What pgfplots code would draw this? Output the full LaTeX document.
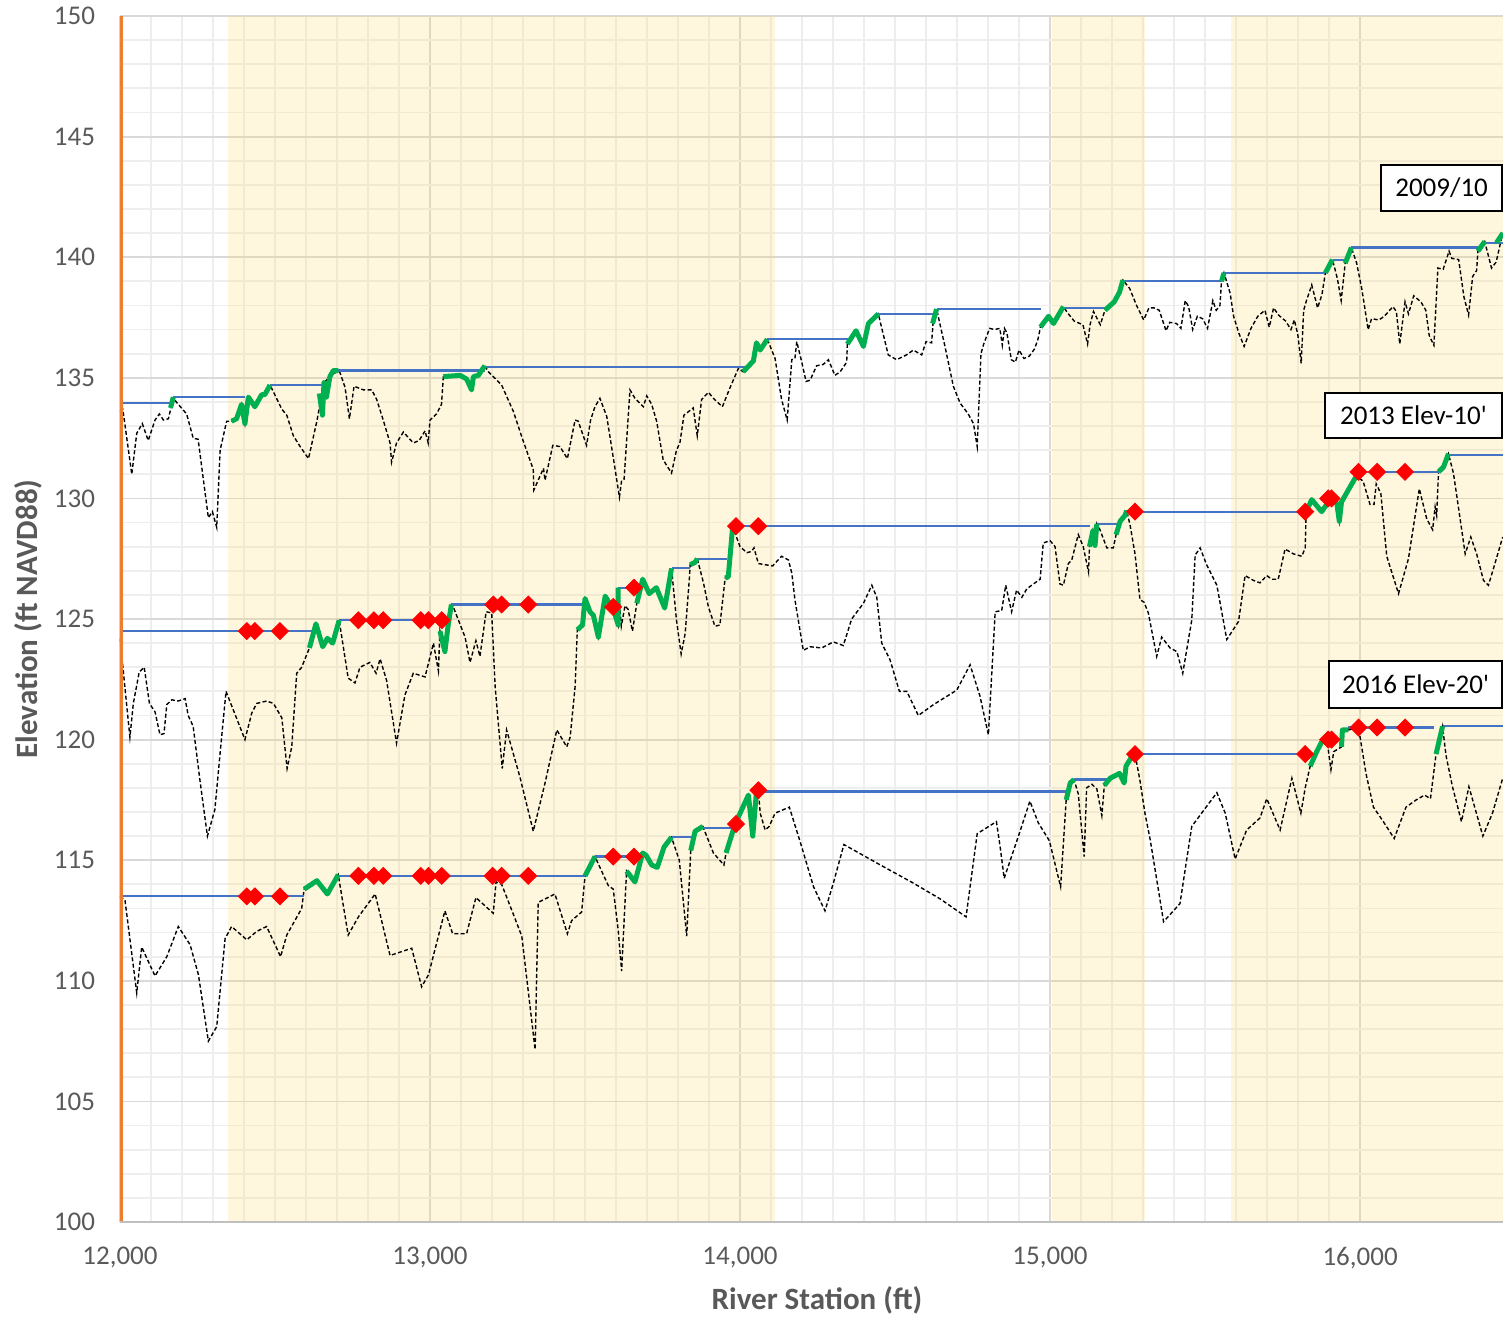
\documentclass[border=0pt]{standalone}
\usepackage{fontspec}
\setmainfont{Carlito}
\newfontfamily\boxfont{Carlito}
\usepackage{pgfplots}
\pgfplotsset{compat=1.18}
\definecolor{xblue}{HTML}{4472C4}
\definecolor{xgreen}{HTML}{00B050}
\definecolor{xorange}{HTML}{ED7D31}
\definecolor{xgrey}{HTML}{595959}
\definecolor{gmaj}{HTML}{D9D9D9}
\definecolor{gmin}{HTML}{EEEEEE}
\definecolor{gaxis}{HTML}{BFBFBF}
\definecolor{shade}{HTML}{FFD966}

\pgfplotstableread{
x y
12000 133.6
12009 133.7
12038 131.0
12054 132.7
12072 133.1
12091 132.4
12113 133.25
12127 133.5
12140 133.25
12156 133.3
12172 134.15
12188 133.9
12215 133.5
12236 132.5
12252 132.45
12285 129.2
12298 129.45
12312 128.8
12323 132.0
12344 133.2
12360 133.2
12376 133.3
12392 133.9
12403 133.1
12414 134.2
12435 133.8
12457 134.3
12467 134.3
12484 134.7
12522 133.7
12538 133.45
12559 132.6
12581 132.15
12608 131.65
12635 133.2
12645 133.9
12658 134.8
12677 135.05
12704 135.3
12710 135.2
12726 134.6
12740 133.3
12755 134.65
12785 134.5
12812 134.5
12828 134.1
12849 133.25
12871 132.3
12876 131.5
12892 132.3
12914 132.75
12946 132.3
12965 132.4
12984 132.8
12994 132.3
13000 133.25
13021 133.5
13037 133.9
13043 135.05
13097 135.1
13118 134.95
13134 134.5
13140 135.05
13156 135.1
13166 135.3
13177 135.5
13188 135.25
13231 134.7
13269 133.6
13296 132.55
13333 131.2
13335 130.35
13366 131.25
13371 130.75
13396 132.2
13419 132.15
13443 131.65
13468 133.25
13478 133.2
13505 132.2
13518 133.25
13532 133.8
13548 134.15
13570 133.4
13591 131.7
13611 130.05
13618 130.75
13626 130.8
13645 134.5
13661 134.15
13688 133.8
13699 134.25
13715 133.9
13731 133.2
13752 131.6
13779 131.05
13795 132.0
13806 132.3
13819 133.45
13849 133.75
13862 132.6
13876 134.1
13898 134.4
13914 134.15
13943 133.8
13968 134.6
13995 135.4
14010 135.25
14043 135.7
14053 136.45
14065 136.15
14088 136.6
14113 135.8
14134 134.1
14152 133.25
14167 135.75
14177 135.8
14183 136.5
14199 135.65
14213 134.85
14226 134.9
14247 135.5
14268 135.55
14285 135.75
14306 135.1
14323 135.25
14344 135.65
14346 136.4
14374 136.95
14398 136.3
14414 137.25
14446 137.65
14478 135.95
14505 135.75
14537 135.95
14559 136.15
14586 135.95
14600 136.5
14618 136.45
14623 137.35
14634 137.85
14661 136.3
14688 134.65
14710 133.95
14736 133.5
14753 133.1
14765 132.15
14777 136.0
14786 136.4
14805 137.05
14821 137.0
14838 137.05
14846 136.35
14853 137.05
14861 136.85
14875 135.75
14888 135.65
14900 136.15
14916 135.8
14933 135.9
14950 136.2
14961 136.6
14969 137.1
14995 137.55
15011 137.25
15043 137.95
15056 137.7
15078 137.35
15106 137.2
15121 136.4
15129 137.2
15140 137.75
15162 137.2
15177 137.8
15207 138.15
15224 138.55
15235 139.05
15257 138.7
15279 138.0
15302 137.4
15319 137.9
15335 137.9
15352 137.8
15374 136.95
15386 137.3
15408 137.25
15422 137.05
15436 138.2
15447 137.95
15460 137.0
15475 137.55
15492 137.45
15508 137.05
15525 138.2
15536 137.8
15548 138.0
15553 139.0
15561 139.35
15581 138.5
15592 137.55
15609 136.85
15626 136.3
15648 137.05
15670 137.55
15693 137.8
15707 137.1
15721 137.9
15737 137.6
15760 137.35
15777 137.0
15788 137.4
15799 136.8
15810 135.6
15818 137.8
15827 138.2
15844 138.85
15863 137.9
15877 138.45
15888 139.35
15911 139.9
15927 139.1
15939 138.2
15952 139.75
15972 140.4
15989 139.75
16006 138.65
16026 137.0
16037 137.45
16061 137.4
16078 137.55
16106 137.95
16117 137.75
16128 136.4
16145 138.15
16156 137.65
16173 138.4
16196 138.15
16212 137.8
16223 136.75
16238 136.35
16251 139.55
16268 139.5
16287 140.25
16296 139.95
16318 139.9
16335 138.35
16350 137.6
16363 139.2
16376 139.45
16380 140.25
16402 140.65
16424 139.55
16439 139.8
16460 141.0
}\blackA

\pgfplotstableread{
x y
12000 124.2
12032 120.1
12043 121.5
12062 122.8
12078 123.0
12095 121.5
12113 121.15
12129 120.2
12142 120.25
12151 121.45
12167 121.65
12188 121.6
12210 121.7
12220 121.0
12236 120.55
12258 118.3
12282 116.0
12306 117.1
12323 119.45
12342 122.0
12374 120.95
12403 120.0
12425 121.1
12441 121.5
12473 121.6
12495 121.5
12522 120.9
12539 118.8
12554 119.7
12570 122.75
12586 123.0
12611 123.8
12632 124.8
12654 123.85
12669 124.2
12686 124.0
12707 124.95
12736 122.55
12758 122.35
12774 123.0
12806 123.2
12826 122.75
12839 123.35
12860 122.45
12892 119.85
12919 121.85
12946 122.75
12984 122.6
13011 124.0
13027 122.85
13032 124.5
13048 123.65
13059 124.8
13069 125.6
13075 125.5
13113 124.25
13129 123.2
13148 124.1
13161 123.45
13181 125.3
13199 125.25
13210 122.2
13233 118.8
13247 120.4
13290 118.45
13333 116.2
13371 118.2
13409 120.4
13441 119.7
13452 120.1
13468 122.2
13475 124.55
13492 124.75
13500 125.85
13516 125.3
13527 125.15
13543 124.25
13565 125.95
13581 125.6
13594 125.3
13607 124.75
13607 126.3
13617 124.7
13629 125.55
13639 125.4
13653 124.5
13667 125.65
13686 126.65
13707 126.05
13730 126.3
13757 125.45
13779 127.1
13795 124.95
13810 123.55
13823 124.4
13837 126.75
13839 127.25
13855 127.35
13862 127.5
13882 126.5
13898 125.5
13919 124.7
13935 124.75
13952 126.7
13962 126.75
13976 128.8
13984 128.55
14000 128.0
14022 127.75
14037 127.8
14045 127.95
14059 127.3
14081 127.25
14105 127.2
14134 127.6
14156 127.45
14167 126.9
14177 125.8
14204 123.7
14226 123.85
14263 123.8
14301 124.05
14333 123.9
14360 125.0
14398 125.65
14425 126.4
14441 125.9
14457 124.0
14484 123.3
14514 122.0
14538 122.0
14575 121.0
14624 121.45
14699 122.05
14742 123.1
14774 121.8
14801 120.2
14823 125.3
14844 125.35
14857 126.4
14876 125.3
14892 126.2
14909 125.9
14925 126.25
14946 126.45
14968 126.65
14978 128.15
15000 128.25
15016 128.0
15032 126.45
15043 126.4
15059 127.3
15070 127.45
15091 128.5
15107 128.0
15124 126.95
15127 128.0
15138 128.65
15145 128.05
15151 128.95
15161 128.7
15183 127.95
15204 127.95
15213 128.5
15226 129.05
15242 129.3
15247 129.5
15258 128.9
15274 127.7
15290 125.8
15303 125.7
15317 125.25
15344 123.45
15360 124.25
15387 123.8
15409 123.65
15428 122.75
15457 124.95
15468 127.65
15484 127.95
15505 127.25
15538 126.4
15570 124.15
15608 124.9
15629 126.8
15656 126.6
15677 126.5
15699 126.8
15715 126.65
15736 126.65
15758 127.9
15785 127.7
15812 127.6
15823 127.95
15826 129.45
15844 129.95
15876 129.45
15903 129.95
15925 129.8
15933 129.05
15940 129.85
15962 130.35
15989 130.95
16010 130.7
16032 129.75
16045 129.75
16052 130.6
16067 130.2
16086 127.6
16124 126.05
16156 127.5
16191 130.4
16215 129.15
16234 128.7
16242 129.65
16247 129.3
16253 131.1
16269 131.3
16285 131.85
16301 131.05
16317 129.65
16339 127.7
16357 128.4
16376 127.7
16398 126.6
16414 126.4
16435 127.3
16460 128.4
}\blackB

\pgfplotstableread{
x y
12000 113.5
12016 113.35
12054 109.5
12070 111.4
12113 110.2
12151 111.0
12188 112.25
12226 111.5
12253 110.25
12285 107.5
12312 108.1
12339 111.75
12360 112.25
12409 111.7
12441 112.05
12473 112.25
12518 111.0
12538 111.9
12586 113.0
12594 113.8
12635 114.15
12669 113.6
12704 114.4
12736 111.9
12769 112.65
12823 113.6
12871 111.05
12941 111.35
12973 109.75
12995 110.25
13048 112.9
13073 111.95
13118 111.95
13148 113.45
13204 112.8
13213 114.1
13231 114.0
13263 112.95
13296 111.85
13339 107.15
13349 113.25
13403 113.6
13443 111.95
13457 112.5
13489 112.85
13500 114.35
13532 115.15
13575 113.95
13591 113.8
13607 112.1
13618 110.4
13634 114.55
13661 114.1
13686 115.3
13697 115.2
13715 114.8
13733 114.7
13755 115.55
13779 115.95
13804 115.0
13828 111.85
13841 115.4
13855 116.2
13880 116.4
13914 115.3
13948 114.8
13955 115.3
13984 116.5
14027 117.7
14041 116.0
14052 117.7
14059 117.9
14065 116.95
14081 116.25
14094 116.4
14113 116.95
14159 117.2
14199 115.55
14237 113.9
14274 112.9
14301 114.05
14335 115.65
14446 114.85
14559 114.05
14645 113.4
14729 112.65
14765 116.1
14827 116.6
14839 115.55
14852 114.25
14898 116.0
14935 117.45
14962 116.55
14998 115.8
15034 113.9
15052 117.5
15065 118.2
15077 118.35
15091 117.75
15110 115.15
15118 118.0
15135 118.15
15151 117.95
15167 116.85
15175 118.1
15194 118.4
15224 118.6
15239 118.2
15245 118.9
15264 119.3
15274 119.4
15290 118.3
15306 116.95
15323 115.85
15344 114.2
15366 112.45
15419 113.2
15457 116.4
15538 117.8
15565 116.95
15597 115.05
15634 116.25
15677 116.75
15699 117.55
15742 116.25
15780 118.4
15809 116.95
15823 118.0
15839 118.9
15860 119.5
15880 120.0
15895 119.8
15906 118.75
15915 119.5
15940 119.7
15943 120.4
15962 120.4
15995 120.5
16019 118.6
16043 117.2
16075 116.6
16110 115.9
16148 117.2
16181 117.5
16208 117.7
16227 117.55
16245 119.4
16266 120.55
16277 119.35
16298 118.05
16327 116.6
16351 118.05
16396 116.0
16427 116.95
16460 118.4
}\blackC

\begin{document}
\begin{tikzpicture}
\begin{axis}[
  at={(0,0)}, anchor=south west,
  scale only axis, width=691.5pt, height=603pt,
  xmin=12000, xmax=16461, ymin=100, ymax=150,
  xtick={12000,13000,14000,15000,16000},
  ytick={100,105,110,115,120,125,130,135,140,145,150},
  minor x tick num=9, minor y tick num=4,
  grid=both,
  major grid style={draw=gmaj, line width=0.9pt},
  minor grid style={draw=gmin, line width=0.9pt},
  major tick length=0pt, minor tick length=0pt,
  axis line style={draw=none},
  unbounded coords=jump,
  scaled x ticks=false,
  xticklabel={\pgfmathprintnumber[fixed,precision=0,1000 sep={,}]{\tick}},
  /pgf/number format/assume math mode=true,
  tick label style={font=\fontsize{13.5}{16}\selectfont, text=xgrey},
  yticklabel style={xshift=-9pt},
  xticklabel style={yshift=-9pt},
  xlabel={River Station (ft)}, ylabel={Elevation (ft NAVD88)},
  label style={font=\bfseries\fontsize{15.5}{18}\selectfont, text=xgrey},
  xlabel style={at={(axis description cs:0.504,-0.0647)}, anchor=center},
  ylabel style={at={(axis description cs:-0.0665,0.5)}, anchor=center},
]
% shaded reaches
\addplot[fill=shade, fill opacity=0.22, draw=none] coordinates {(12348,100)(14113,100)(14113,150)(12348,150)} -- cycle;
\addplot[fill=shade, fill opacity=0.22, draw=none] coordinates {(15006,100)(15306,100)(15306,150)(15006,150)} -- cycle;
\addplot[fill=shade, fill opacity=0.22, draw=none] coordinates {(15584,100)(16461,100)(16461,150)(15584,150)} -- cycle;

% thalweg profiles
\addplot[black, line width=0.7pt, dash pattern=on 2pt off 1.2pt] table {\blackA};
\addplot[black, line width=0.7pt, dash pattern=on 2pt off 1.2pt] table {\blackB};
\addplot[black, line width=0.7pt, dash pattern=on 2pt off 1.2pt] table {\blackC};

% water surface steps 2009/10
\addplot[xblue, line width=1.1pt] coordinates {
(12000,133.95)(12172,133.95)(12172,nan)
(12172,134.2)(12403,134.2)(12403,nan)
(12484,134.7)(12666,134.7)(12666,nan)
(12704,135.3)(13177,135.3)(13177,nan)
(13177,135.45)(14016,135.45)(14016,nan)
(14088,136.6)(14349,136.6)(14349,nan)
(14446,137.65)(14629,137.65)(14629,nan)
(14634,137.85)(14972,137.85)(14972,nan)
(15045,137.9)(15177,137.9)(15177,nan)
(15235,139.0)(15553,139.0)(15553,nan)
(15561,139.35)(15888,139.35)(15888,nan)
(15911,139.9)(15950,139.9)(15950,nan)
(15972,140.4)(16380,140.4)(16380,nan)
(16402,140.6)(16461,140.6)};
% 2013
\addplot[xblue, line width=1.1pt] coordinates {
(12000,124.5)(12618,124.5)(12618,nan)
(12707,124.95)(13065,124.95)(13065,nan)
(13069,125.6)(13492,125.6)(13492,nan)
(13607,126.3)(13667,126.3)(13667,nan)
(13779,127.1)(13839,127.1)(13839,nan)
(13862,127.5)(13957,127.5)(13957,nan)
(13976,128.85)(15129,128.85)(15129,nan)
(15151,128.95)(15215,128.95)(15215,nan)
(15247,129.45)(15823,129.45)(15823,nan)
(15995,131.1)(16253,131.1)(16253,nan)
(16285,131.8)(16461,131.8)};
% 2016
\addplot[xblue, line width=1.1pt] coordinates {
(12000,113.5)(12594,113.5)(12594,nan)
(12704,114.35)(13500,114.35)(13500,nan)
(13532,115.15)(13661,115.15)(13661,nan)
(13779,115.95)(13844,115.95)(13844,nan)
(13880,116.35)(13978,116.35)(13978,nan)
(14059,117.85)(15058,117.85)(15058,nan)
(15077,118.35)(15183,118.35)(15183,nan)
(15274,119.4)(15823,119.4)(15823,nan)
(15962,120.5)(16239,120.5)(16239,nan)
(16266,120.55)(16461,120.55)};

% riffles 2009/10
\addplot[xgreen, line width=2.5pt, line join=round] coordinates {
(12163,133.75)(12172,134.2)(12172,nan)
(12360,133.2)(12376,133.3)(12392,133.9)(12403,133.1)(12414,134.2)(12435,133.8)(12457,134.3)(12467,134.3)(12484,134.7)(12484,nan)
(12643,134.35)(12653,133.45)(12658,134.8)(12666,134.2)(12677,135.05)(12688,135.3)(12704,135.3)(12704,nan)
(13043,135.05)(13097,135.1)(13118,134.95)(13134,134.5)(13140,135.05)(13156,135.1)(13166,135.3)(13177,135.5)(13177,nan)
(14010,135.25)(14043,135.7)(14053,136.45)(14065,136.15)(14088,136.6)(14088,nan)
(14346,136.4)(14374,136.95)(14398,136.3)(14414,137.25)(14446,137.65)(14446,nan)
(14621,137.25)(14634,137.85)(14634,nan)
(14969,137.1)(14995,137.55)(15011,137.25)(15043,137.95)(15043,nan)
(15177,137.8)(15207,138.15)(15224,138.55)(15235,139.05)(15235,nan)
(15553,139.0)(15561,139.35)(15561,nan)
(15888,139.35)(15911,139.9)(15911,nan)
(15952,139.75)(15972,140.4)(15972,nan)
(16380,140.25)(16402,140.65)(16402,nan)
(16440,140.6)(16461,141.0)};
% 2013
\addplot[xgreen, line width=2.5pt, line join=round] coordinates {
(12611,123.8)(12632,124.8)(12654,123.85)(12669,124.2)(12686,124.0)(12707,124.95)(12707,nan)
(13032,124.5)(13048,123.65)(13059,124.8)(13069,125.6)(13069,nan)
(13475,124.55)(13492,124.75)(13500,125.85)(13516,125.3)(13527,125.15)(13543,124.25)(13565,125.95)(13581,125.6)(13594,125.3)(13607,124.75)(13607,126.3)(13607,nan)
(13667,125.65)(13686,126.65)(13707,126.05)(13730,126.3)(13757,125.45)(13779,127.1)(13779,nan)
(13839,127.25)(13855,127.35)(13862,127.5)(13862,nan)
(13952,126.7)(13962,126.75)(13976,128.8)(13976,nan)
(15127,128.0)(15138,128.65)(15145,128.05)(15151,128.95)(15151,nan)
(15213,128.5)(15226,129.05)(15242,129.3)(15247,129.5)(15247,nan)
(15826,129.45)(15844,129.95)(15876,129.45)(15903,129.95)(15925,129.8)(15933,129.05)(15940,129.85)(15962,130.35)(15989,130.95)(15989,nan)
(16253,131.1)(16269,131.3)(16285,131.85)};
% 2016
\addplot[xgreen, line width=2.5pt, line join=round] coordinates {
(12594,113.8)(12635,114.15)(12669,113.6)(12704,114.4)(12704,nan)
(13500,114.35)(13532,115.15)(13532,nan)
(13634,114.55)(13661,114.1)(13686,115.3)(13697,115.2)(13715,114.8)(13733,114.7)(13755,115.55)(13779,115.95)(13779,nan)
(13841,115.4)(13855,116.2)(13880,116.4)(13880,nan)
(13955,115.3)(13984,116.5)(14027,117.7)(14041,116.0)(14052,117.7)(14059,117.9)(14059,nan)
(15052,117.5)(15065,118.2)(15077,118.35)(15077,nan)
(15175,118.1)(15194,118.4)(15224,118.6)(15239,118.2)(15245,118.9)(15264,119.3)(15264,nan)
(15839,118.9)(15860,119.5)(15880,120.0)(15880,nan)
(15940,119.7)(15943,120.4)(15962,120.4)(15962,nan)
(16245,119.4)(16266,120.55)};

% controls (red diamonds)
\addplot[only marks, mark=square*, mark size=3pt, mark options={rotate=45, fill=red, draw=red}] coordinates {
(12409,124.5)(12435,124.5)(12516,124.5)
(12769,124.95)(12819,124.95)(12849,124.95)(12970,124.95)(12995,124.95)(13038,124.95)
(13204,125.6)(13231,125.6)(13317,125.6)
(13591,125.5)(13658,126.3)
(13987,128.85)(14059,128.85)
(15274,129.45)(15823,129.45)(15897,130.0)(15908,130.0)
(15995,131.1)(16055,131.1)(16145,131.1)};
\addplot[only marks, mark=square*, mark size=3pt, mark options={rotate=45, fill=red, draw=red}] coordinates {
(12409,113.5)(12435,113.5)(12516,113.5)
(12769,114.35)(12819,114.35)(12849,114.35)(12970,114.35)(12995,114.35)(13038,114.35)
(13202,114.35)(13231,114.35)(13317,114.35)
(13591,115.15)(13658,115.15)
(13987,116.5)(14059,117.9)
(15274,119.4)(15823,119.4)(15897,120.0)(15908,120.0)
(15995,120.5)(16055,120.5)(16145,120.5)};

% left line
\addplot[xorange, line width=2.6pt] coordinates {(12000,100)(12000,150)};

% series labels
\draw[fill=white, line width=1pt] (axis cs:16068,143.82) rectangle (axis cs:16458,141.92);
\node[font=\boxfont\fontsize{13.5}{16}\selectfont] at (axis cs:16263,142.87) {2009/10};
\draw[fill=white, line width=1pt] (axis cs:15887,134.37) rectangle (axis cs:16458,132.5);
\node[font=\boxfont\fontsize{13.5}{16}\selectfont] at (axis cs:16172,133.43) {2013 Elev-10'};
\draw[fill=white, line width=1pt] (axis cs:15900,123.26) rectangle (axis cs:16458,121.31);
\node[font=\boxfont\fontsize{13.5}{16}\selectfont] at (axis cs:16179,122.28) {2016 Elev-20'};
\end{axis}
\draw[color=gaxis, line width=1pt] (0,0) -- (691.5pt,0);
\pgfresetboundingbox
\path[use as bounding box] (-60pt,-48.5pt) rectangle (691.5pt,611pt);
\end{tikzpicture}
\end{document}
